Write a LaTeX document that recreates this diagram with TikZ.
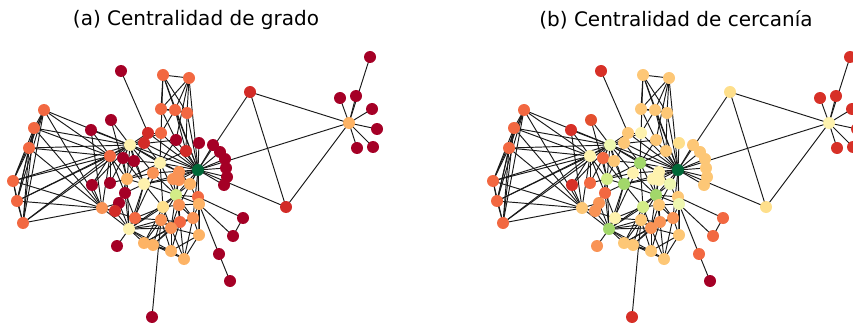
\documentclass[tikz,border=0pt]{standalone}
\usepackage{fontspec}
\setmainfont{DejaVu Sans}
\pgfdeclarelayer{edges}
\pgfsetlayers{edges,main}
% RdYlGn palette
\definecolor{cdkred}{HTML}{A50026}
\definecolor{cred}{HTML}{D22B27}
\definecolor{credb}{HTML}{D73027}
\definecolor{cred2}{HTML}{E4502F}
\definecolor{cored}{HTML}{F26841}
\definecolor{cor}{HTML}{F99355}
\definecolor{calor}{HTML}{FDB365}
\definecolor{cblor}{HTML}{FDC776}
\definecolor{clyel}{HTML}{FEDF8B}
\definecolor{cpale}{HTML}{FEF2AE}
\definecolor{cpgreen}{HTML}{EEF7B0}
\definecolor{cygreen}{HTML}{D3EC87}
\definecolor{clgreen}{HTML}{A2D76A}
\definecolor{cdkgreen}{HTML}{006837}
% vertices: name / x / y / colour (degree) / colour (closeness)
\newcommand\vertexlist{%
n1/121/71/cdkred/credb,n2/163/75/cored/cblor,n3/189/78/cored/cblor,%
n4/161/109/cored/cblor,n5/175/110/cored/cblor,n6/187/113/cored/cblor,%
n7/148/133/cred/cblor,n8/161/133/cored/cpale,n9/176/140/cdkred/cblor,%
n10/144/143/cred/cblor,n11/186/151/cred/cblor,n12/199/143/cdkred/clyel,%
n13/213/145/cdkred/cblor,n14/220/152/cdkred/cblor,n15/225/159/cdkred/cblor,%
n16/226/168/cdkred/cblor,n17/227/177/cdkred/cblor,n18/224/185/cdkred/cblor,%
n19/130/145/cpale/cpgreen,n20/111/120/cdkred/cred2,n21/91/130/cdkred/credb,%
n22/110/156/cored/cpale,n23/123/158/cdkred/cored,n24/134/161/cdkred/cblor,%
n25/160/163/cpale/clgreen,n26/198/170/cdkgreen/cdkgreen,n27/153/173/cor/cpale,%
n28/179/172/cor/cpale,n29/173/179/cor/cpale,n30/179/180/cor/cpale,%
n31/127/179/calor/cygreen,n32/144/184/cpale/clgreen,n33/190/184/calor/cpgreen,%
n34/92/185/cdkred/credb,n35/110/183/cdkred/cored,n36/125/193/cdkred/cored,%
n37/176/195/cygreen/clgreen,n38/198/197/cored/cblor,n39/119/203/cdkred/cor,%
n40/115/211/cred/cor,n41/102/208/cor/cblor,n42/163/207/clyel/cygreen,%
n43/179/205/cor/cblor,n44/199/204/calor/cpgreen,n45/135/218/cored/cpale,%
n46/161/220/cor/cblor,n47/180/222/cored/cor,n48/193/218/cor/cor,%
n49/129/229/cpale/clgreen,n50/171/228/cor/cor,n51/199/235/calor/cblor,%
n52/117/246/cdkred/cor,n53/144/243/calor/cblor,n54/153/245/calor/cblor,%
n55/171/251/calor/cblor,n56/184/259/calor/cblor,n57/243/218/cdkred/cored,%
n58/233/236/cdkred/cored,n59/219/254/cdkred/cored,n60/230/281/cdkred/cdkred,%
n61/152/317/cdkred/credb,n62/250/92/cred/clyel,n63/286/207/cred/clyel,%
n64/349/123/calor/cpale,n65/370/57/cdkred/credb,n66/340/98/cdkred/credb,%
n67/356/96/cdkred/credb,n68/372/109/cdkred/credb,n69/377/129/cdkred/credb,%
n70/357/148/cdkred/credb,n71/373/147/cdkred/credb,%
n72/44/110/cored/cored,n73/34/128/cored/cored,n74/29/148/cored/cored,%
n75/13/181/cored/cored,n76/17/201/cored/cored,n77/23/223/cored/cored}
% edges
\newcommand\edgelist{%
n2/n3,n2/n4,n2/n5,n2/n6,n3/n4,n3/n5,n3/n6,n4/n5,n4/n6,n5/n6,%
n4/n8,n2/n8,n5/n8,n3/n26,n6/n26,n5/n26,n5/n11,n6/n11,n4/n9,n3/n9,n2/n26,%
n8/n19,n8/n25,n8/n26,n8/n7,n9/n26,n9/n25,n9/n19,n11/n26,n11/n25,n12/n26,%
n13/n26,n14/n26,n15/n26,n16/n26,n17/n26,n18/n26,%
n7/n26,n7/n19,n7/n10,n1/n7,n10/n26,n10/n19,n10/n25,n10/n31,%
n19/n20,n19/n21,n19/n22,n19/n23,n19/n24,n19/n31,n19/n32,n19/n25,n19/n27,%
n19/n26,n19/n35,n19/n34,n19/n28,n20/n31,n21/n22,n21/n41,%
n22/n31,n22/n35,n22/n41,n22/n36,n22/n34,n23/n31,n23/n32,n24/n32,n24/n25,%
n25/n26,n25/n32,n25/n27,n25/n28,n25/n37,n25/n31,n25/n42,%
n27/n26,n27/n32,n27/n37,n27/n31,%
n28/n26,n29/n26,n30/n26,n28/n37,n29/n37,n30/n37,n29/n32,n28/n29,n29/n30,%
n28/n30,n30/n33,n28/n33,n31/n32,n31/n36,n31/n49,n31/n35,%
n32/n26,n32/n37,n32/n42,n32/n49,n32/n45,n32/n36,n33/n26,n33/n37,n33/n44,%
n34/n41,n36/n49,n36/n45,%
n37/n26,n37/n42,n37/n43,n37/n46,n37/n47,n37/n48,n37/n50,n37/n49,n37/n44,%
n38/n26,n38/n57,n38/n44,n38/n37,%
n39/n49,n39/n41,n39/n31,n40/n41,n40/n49,n41/n49,n41/n45,%
n42/n49,n42/n46,n42/n50,n42/n45,n42/n43,n42/n53,%
n43/n47,n43/n48,n43/n50,n43/n44,n43/n26,%
n44/n26,n44/n58,n44/n59,n44/n48,n44/n51,n45/n49,n45/n46,%
n46/n49,n46/n50,n46/n53,n46/n54,n46/n55,n46/n47,n46/n61,%
n47/n50,n47/n48,n47/n55,n47/n56,n47/n53,n47/n54,%
n48/n51,n48/n50,n48/n56,n48/n26,%
n49/n53,n49/n54,n49/n55,n49/n50,n49/n47,n49/n52,n49/n25,%
n50/n53,n50/n54,n50/n55,n50/n56,n50/n51,n51/n56,n51/n55,n51/n26,%
n53/n54,n53/n55,n54/n55,n54/n56,n55/n56,n57/n58,n59/n60,%
n62/n26,n62/n63,n62/n64,n63/n26,n63/n64,n64/n26,%
n64/n65,n64/n66,n64/n67,n64/n68,n64/n69,n64/n70,n64/n71,%
n72/n73,n72/n74,n72/n75,n72/n76,n72/n77,n73/n74,n73/n75,n73/n76,n73/n77,%
n74/n75,n74/n76,n74/n77,n75/n76,n75/n77,n76/n77,%
n72/n19,n73/n19,n74/n19,n75/n19,n76/n19,n77/n19,%
n72/n22,n73/n22,n74/n22,n75/n22,n76/n22,n77/n22,%
n72/n41,n73/n41,n74/n41,n75/n41,n76/n41,n77/n41}
\begin{document}
\begin{tikzpicture}[x=1pt,y=-1pt,
  vert/.style={circle,inner sep=0pt,minimum size=12pt,draw=none},
  link/.style={draw=black!90,line width=0.95pt},
  caption/.style={font=\fontsize{20}{24}\selectfont,text=black}]
\useasboundingbox (0,0) rectangle (853,323);
\clip (0,0) rectangle (853,323);
% titles
\node[caption] (ta) at (196,20) {(a) Centralidad de grado};
\node[caption] (tb) at (676,20) {(b) Centralidad de cercanía};
% vertices of both panels
\foreach \n/\x/\y/\ca/\cb in \vertexlist {
  \node[vert,fill=\ca] (a\n) at (\x,\y) {};
  \node[vert,fill=\cb] (b\n) at (\x+480,\y) {};
}
% edges below the vertices
\begin{pgfonlayer}{edges}
\foreach \p in {a,b} {
  \foreach \u/\v in \edgelist {
    \draw[link] (\p\u.center) -- (\p\v.center);
  }
}
\end{pgfonlayer}
\end{tikzpicture}
\end{document}
